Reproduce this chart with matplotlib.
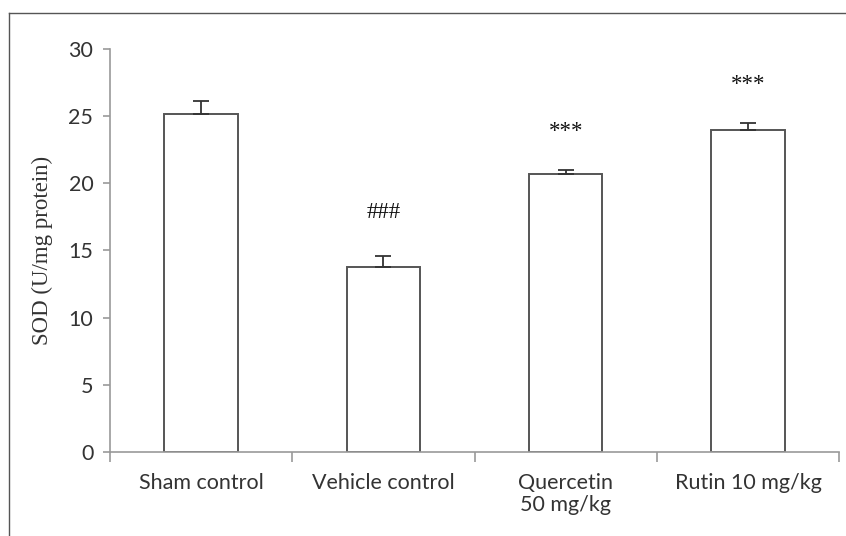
import matplotlib
matplotlib.use("Agg")
import matplotlib.pyplot as plt
from matplotlib.lines import Line2D
import numpy as np

groups = ["Sham control", "Vehicle control", "Quercetin\n50 mg/kg", "Rutin 10 mg/kg"]
sod = [25.17, 13.75, 20.69, 23.96]
sem = [1.0, 0.87, 0.33, 0.57]
marks = ["", "###", "***", "***"]
mark_y = [None, 17.8, 23.85, 27.4]

fig = plt.figure(figsize=(8.46, 5.36), dpi=100)
ax = fig.add_axes([0.130, 0.1573, 0.862, 0.7507])

x = np.arange(len(groups))
ax.bar(x, sod, width=0.403, color="white", edgecolor="#555555", linewidth=1.4, zorder=2)
ax.errorbar(x, sod, yerr=[np.zeros(len(sem)), sem], fmt="none", ecolor="#333333",
            elinewidth=1.3, capsize=5.5, capthick=1.3, zorder=3)

for xi, m, my in zip(x, marks, mark_y):
    if m:
        ax.text(xi, my, m, ha="center", va="center", fontsize=16.5,
                family="Liberation Serif", color="#111111")

ax.set_xlim(-0.5, 3.5)
ax.set_ylim(0, 30)
ax.set_yticks([0, 5, 10, 15, 20, 25, 30])

# ticks at category boundaries, labels centred under bars
ax.set_xticks(np.arange(-0.5, 4.0, 1.0))
ax.set_xticklabels([])
ax.set_xticks(x, minor=True)
ax.set_xticklabels(groups, minor=True, family="Lato", fontsize=15.5, color="#333333",
                   linespacing=1.15)
ax.tick_params(axis="x", which="minor", length=0, pad=15)
ax.tick_params(axis="x", which="major", length=7, color="#999999", width=1.2)
ax.tick_params(axis="y", length=5, color="#999999", width=1.2, pad=7,
               labelsize=15.5, labelcolor="#333333")
for lab in ax.get_yticklabels():
    lab.set_family("Lato")

for side in ["top", "right"]:
    ax.spines[side].set_visible(False)
for side in ["left", "bottom"]:
    ax.spines[side].set_color("#999999")
    ax.spines[side].set_linewidth(1.2)

ax.set_ylabel("SOD (U/mg protein)", family="Liberation Serif", fontsize=16.5,
              color="#333333")
ax.yaxis.set_label_coords(-0.078, 0.5)

# outer frame lines (left and top)
fig.add_artist(Line2D([8.5 / 846, 8.5 / 846], [0, 1 - 13 / 536], color="#555555", lw=1.0))
fig.add_artist(Line2D([8.5 / 846, 1], [1 - 13 / 536, 1 - 13 / 536], color="#555555", lw=1.0))

fig.savefig("out.png", dpi=100)
